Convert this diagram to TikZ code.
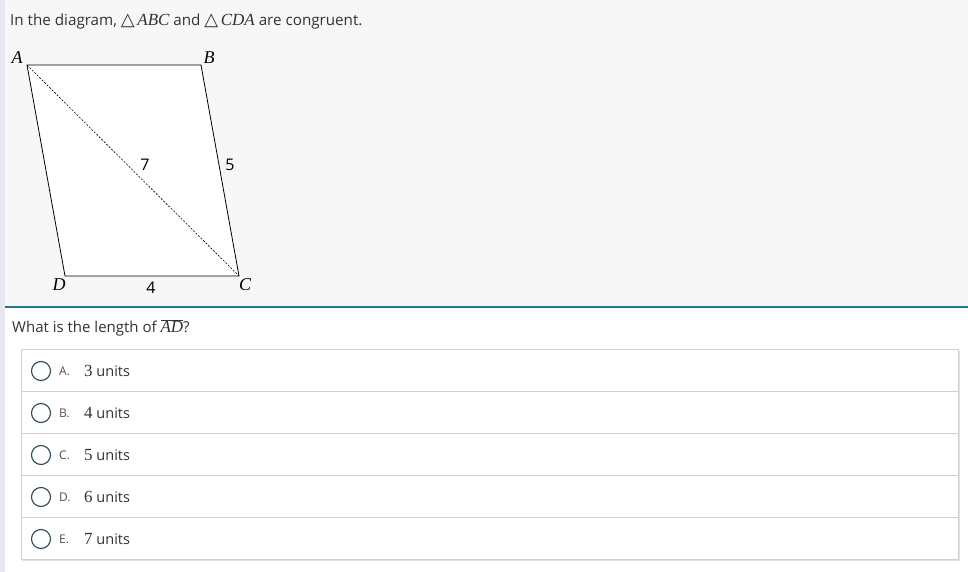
\documentclass[tikz,border=0pt]{standalone}
\usepackage{fontspec}
\setmainfont{Open Sans}
\newfontfamily\mathser{Liberation Serif}
\newfontfamily\symf{DejaVu Sans}
\definecolor{topbg}{HTML}{F7F7F7}
\definecolor{strip}{HTML}{E6EAEE}
\definecolor{teal}{HTML}{1E7B9C}
\definecolor{txt}{HTML}{333333}
\definecolor{rowline}{HTML}{D0D0D0}
\definecolor{radio}{HTML}{2B4656}
\begin{document}
\begin{tikzpicture}[x=1pt,y=-1pt,
  geo/.style={inner sep=0pt,font=\mathser\itshape\fontsize{18}{18}\selectfont},
  num/.style={inner sep=0pt,font=\fontsize{16}{16}\selectfont},
  body/.style={inner sep=0pt,anchor=west,text=txt,font=\fontsize{15.2}{15.2}\selectfont},
  qbody/.style={inner sep=0pt,anchor=west,text=txt,font=\fontsize{15}{15}\selectfont},
  lett/.style={inner sep=0pt,anchor=west,text=txt!85,font=\fontsize{12}{12}\selectfont},
  ans/.style={inner sep=0pt,anchor=west,text=txt,font=\fontsize{14.5}{14.5}\selectfont},
  rad/.style={draw=radio,line width=1.1pt,circle,minimum size=19pt,inner sep=0pt}]
\useasboundingbox (0,0) rectangle (968,572);
\fill[white] (0,0) rectangle (968,572);
\fill[topbg] (0,0) rectangle (968,306);
\fill[strip] (0,0) rectangle (5,572);
\draw[teal,line width=1.5pt] (5,307) -- (968,307);
% title
\node[body] (title) at (10,22) {In the diagram, {\symf\fontsize{18}{18}\selectfont △}\,{\mathser\itshape\fontsize{17}{17}\selectfont ABC} and {\symf\fontsize{18}{18}\selectfont △}\,{\mathser\itshape\fontsize{17}{17}\selectfont CDA} are congruent.};
% figure
\coordinate (A) at (27,65);
\coordinate (B) at (201,65);
\coordinate (C) at (239,276);
\coordinate (D) at (65,276);
\filldraw[fill=white,draw=black,line width=0.8pt] (A) -- (B) -- (C) -- (D) -- cycle;
\draw[dash pattern=on 2pt off 1.5pt,line width=0.6pt] (A) -- (C);
\node[geo] (lA) at (17,58) {A};
\node[geo] (lB) at (209,58) {B};
\node[geo] (lC) at (245,285) {C};
\node[geo] (lD) at (59,285) {D};
\node[num] (l7) at (145,165) {7};
\node[num] (l5) at (230,165) {5};
\node[num] (l4) at (151,288) {4};
% question
\node[qbody] (q) at (12,328) {What is the length of {\mathser\itshape\fontsize{17}{17}\selectfont$\overline{\hbox{AD}}$}?};
% answer box
\fill[black!12] (22,351) rectangle (960,561);
\fill[white] (21,349) rectangle (958,559);
\draw[rowline,line width=0.8pt] (21,349) rectangle (958,559);
\foreach \y in {391,433,475,517} \draw[rowline,line width=0.8pt] (21,\y) -- (958,\y);
\foreach \n/\l/\v [count=\i from 0] in {ra/A/3,rb/B/4,rc/C/5,rd/D/6,re/E/7}{
  \node[rad] (\n) at (41,371+42*\i) {};
  \node[lett] (\n l) at (59,371+42*\i) {\l.};
  \node[ans] (\n t) at (84,371+42*\i) {{\mathser\fontsize{17}{17}\selectfont \v} units};
}
\end{tikzpicture}
\end{document}
